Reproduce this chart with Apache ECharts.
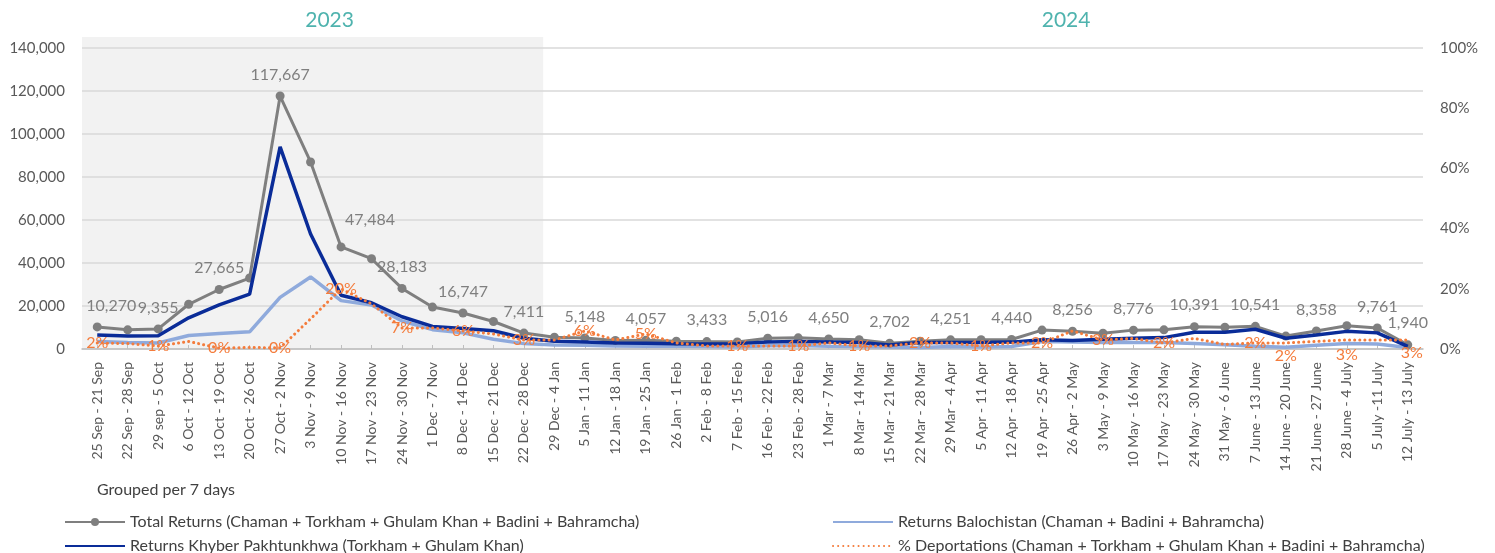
<!DOCTYPE html>
<html><head><meta charset="utf-8">
<script src="https://cdn.jsdelivr.net/npm/echarts@6/dist/echarts.min.js"></script>
<style>html,body{margin:0;padding:0;background:#fff}#c{width:1495px;height:553px}</style>
</head><body><div id="c"></div>
<script>
const categories = ["25 Sep - 21 Sep","22 Sep - 28 Sep","29 sep - 5 Oct","6 Oct - 12 Oct","13 Oct - 19 Oct","20 Oct - 26 Oct","27 Oct - 2 Nov","3 Nov - 9 Nov","10 Nov - 16 Nov","17 Nov - 23 Nov","24 Nov - 30 Nov","1 Dec - 7 Nov","8 Dec - 14 Dec","15 Dec - 21 Dec","22 Dec - 28 Dec","29 Dec - 4 Jan","5 Jan - 11 Jan","12 Jan - 18 Jan","19 Jan - 25 Jan","26 Jan - 1 Feb","2 Feb - 8 Feb","7 Feb - 15 Feb","16 Feb - 22 Feb","23 Feb - 28 Feb","1 Mar - 7 Mar","8 Mar - 14 Mar","15 Mar - 21 Mar","22 Mar - 28 Mar","29 Mar - 4 Apr","5 Apr - 11 Apr","12 Apr - 18 Apr","19 Apr - 25 Apr","26 Apr - 2 May","3 May - 9 May","10 May - 16 May","17 May - 23 May","24 May - 30 May","31 May - 6 June","7 June - 13 June","14 June - 20 June","21 June - 27 June","28 June - 4 July","5 July -11 July","12 July - 13 July"];
const totalReturns = [10270,8900,9355,20800,27665,33000,117667,87000,47484,42000,28183,19500,16747,12800,7411,5500,5148,4000,4057,3600,3433,3300,5016,5200,4650,4300,2702,3600,4251,4300,4440,8800,8256,7300,8776,8900,10391,10100,10541,6000,8358,10800,9761,1940];
const khyberReturns = [6500,6000,6200,14500,20500,25500,94000,53500,25000,21500,15000,10500,9500,8500,5000,3600,3300,2800,2700,2400,2300,2500,3300,3500,3300,3000,1900,3000,3000,3000,3200,4300,4000,4500,5000,5300,7800,7800,9200,5000,6500,8200,7500,1200];
const balochistanReturns = [3500,3000,2800,6300,7200,8000,24000,33500,22500,20500,13000,9000,7500,4500,2500,1900,1800,1400,1300,1300,1200,900,1500,1600,1300,1200,900,700,1200,900,1200,3500,3200,3000,3000,3000,2600,2000,1300,800,1800,2600,2300,700];
const deportationPct = [2,1.8,1,2.5,0.3,0.5,0.4,10,20,15,7,7,6,5,3,3,6,3,5,2,1,1,1,1,2,1,1,2,2,1,2,2,6,3,3.5,2,3.5,1.5,2,2,2.5,3,3,3];
const totalLabelIdx = [0,2,4,6,8,10,12,14,16,18,20,22,24,26,28,30,32,34,36,38,40,42,43];
const deportLabelIdx = [0,2,4,6,8,10,12,14,16,18,21,23,25,27,29,31,33,35,38,39,41,43];
const yearLabels = ["2023","2024"];
const seriesNames = ["Total Returns (Chaman + Torkham + Ghulam Khan + Badini + Bahramcha)","Returns Balochistan (Chaman + Badini + Bahramcha)","Returns Khyber Pakhtunkhwa (Torkham + Ghulam Khan)","% Deportations (Chaman + Torkham + Ghulam Khan + Badini + Bahramcha)"];
const shadedCount = 15;

const FONT = 'Lato, "Noto Sans", sans-serif';
const totalOffsets = {0:[14,0],8:[29,-6]};
const deportOffsets = {39:[0,13],41:[0,15],43:[4,13]};

const chart = echarts.init(document.getElementById('c'));
const fmt = v => v.toLocaleString('en-US');
const legendText = {fontFamily:FONT,fontSize:16,color:'#404040'};
const hideSym = {opacity:0};
const mkLegend = (name, left, top, hide) => ({
  data:[hide ? {name, itemStyle:hideSym} : {name}], left, top, padding:0,
  itemWidth:60, itemHeight:10, textStyle:legendText
});

const option = {
  animation:false,
  textStyle:{fontFamily:FONT},
  grid:{left:82,right:72,top:48,bottom:204,containLabel:false},
  legend:[
    mkLegend(seriesNames[0], 64, 514, false),
    mkLegend(seriesNames[2], 64, 538, true),
    mkLegend(seriesNames[1], 832, 514, true),
    mkLegend(seriesNames[3], 832, 538, true)
  ],
  xAxis:{type:'category',data:categories,boundaryGap:true,
    axisLine:{lineStyle:{color:'#BFBFBF',width:1.5}},
    axisTick:{show:true,inside:true,length:4,alignWithLabel:true,lineStyle:{color:'#BFBFBF'}},
    axisLabel:{rotate:90,interval:0,fontSize:14,color:'#595959',fontFamily:FONT,margin:13}},
  yAxis:[
    {type:'value',min:0,max:140000,interval:20000,
     axisLine:{show:false},axisTick:{show:false},
     splitLine:{lineStyle:{color:'#D9D9D9',width:1.5}},
     axisLabel:{formatter:v=>fmt(v),fontSize:15,color:'#595959',fontFamily:FONT,margin:17}},
    {type:'value',min:0,max:100,interval:20,position:'right',
     axisLine:{show:false},axisTick:{show:false},splitLine:{show:false},
     axisLabel:{formatter:'{value}%',fontSize:15,color:'#595959',fontFamily:FONT,margin:17}}
  ],
  series:[
    {name:seriesNames[0],type:'line',yAxisIndex:0,z:3,
     symbol:'circle',symbolSize:9,
     itemStyle:{color:'#7F7F7F'},lineStyle:{color:'#7F7F7F',width:3},
     data:totalReturns.map((v,i)=>({value:v,label:{show:totalLabelIdx.includes(i),offset:totalOffsets[i]||[0,0]}})),
     label:{position:'top',distance:9,fontSize:16,color:'#7F7F7F',fontFamily:FONT,formatter:p=>fmt(p.value)}},
    {name:seriesNames[1],type:'line',yAxisIndex:0,z:2,symbol:'none',
     itemStyle:{color:'#8FAADC'},lineStyle:{color:'#8FAADC',width:3.5},
     data:balochistanReturns},
    {name:seriesNames[2],type:'line',yAxisIndex:0,z:4,symbol:'none',
     itemStyle:{color:'#0A2C98'},lineStyle:{color:'#0A2C98',width:3.5},
     data:khyberReturns},
    {name:seriesNames[3],type:'line',yAxisIndex:1,z:5,symbol:'circle',symbolSize:1,showSymbol:true,
     itemStyle:{color:'rgba(244,124,60,0)'},lineStyle:{color:'#F47C3C',width:3,type:[0.1,5],cap:'round'},
     data:deportationPct.map((v,i)=>({value:v,label:{show:deportLabelIdx.includes(i),offset:deportOffsets[i]||[0,0]}})),
     label:{show:false,position:'inside',fontSize:16,color:'#F47C3C',fontFamily:FONT,formatter:p=>Math.round(p.value)+'%'}}
  ]
};
chart.setOption(option);

const x0 = chart.convertToPixel({xAxisIndex:0}, categories[0]);
const x1 = chart.convertToPixel({xAxisIndex:0}, categories[1]);
const band = x1 - x0;
const xEnd = chart.convertToPixel({xAxisIndex:0}, categories[shadedCount-1]) + band/2 + 4;
const xStart = x0 - band/2;
const yBottom = chart.convertToPixel({yAxisIndex:0}, 0);
const yTop = chart.convertToPixel({yAxisIndex:0}, 140000) - 11;
const xLast = chart.convertToPixel({xAxisIndex:0}, categories[categories.length-1]) + band/2;
chart.setOption({graphic:[
  {type:'text',left:97,top:482,style:{text:'Grouped per 7 days',fontSize:16,fill:'#404040',fontFamily:FONT}},
  {type:'rect',z:-1,silent:true,shape:{x:xStart,y:yTop,width:xEnd-xStart,height:yBottom-yTop},style:{fill:'#F2F2F2'}},
  {type:'text',x:(xStart+xEnd)/2+17,y:20,style:{text:yearLabels[0],fontSize:21,fill:'#4FB3AE',fontFamily:FONT,align:'center',verticalAlign:'middle'}},
  {type:'text',x:(xEnd+xLast)/2+83,y:20,style:{text:yearLabels[1],fontSize:21,fill:'#4FB3AE',fontFamily:FONT,align:'center',verticalAlign:'middle'}}
]});
</script></body></html>
